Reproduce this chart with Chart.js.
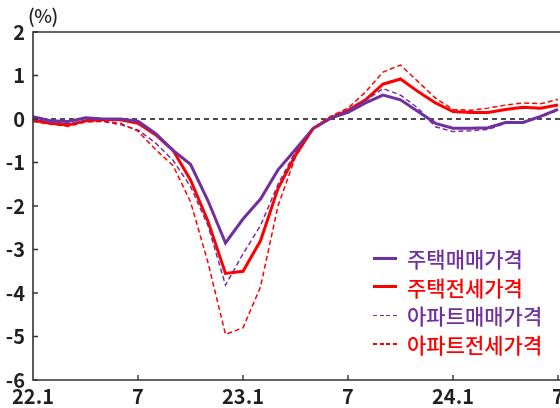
<!DOCTYPE html>
<html>
<head>
<meta charset="utf-8">
<script src="https://cdn.jsdelivr.net/npm/chart.js@4/dist/chart.umd.min.js"></script>
<style>
html,body{margin:0;padding:0;background:#fff;overflow:hidden}
#wrap{position:relative;width:560px;height:408px;overflow:hidden;background:#fff}
#box{position:absolute;left:0;top:0;width:600px;height:408px}
#unit{position:absolute;left:28px;top:1px;font:500 19px "Noto Sans CJK KR";color:#231f20;letter-spacing:-0.5px}
#legend{position:absolute;left:373px;top:244px;font:500 21px "Noto Sans CJK KR"}
.row{display:flex;align-items:center;height:28.5px;white-space:nowrap}
.sw{width:24px;height:3px;margin-right:10px}
.sw.dash{height:1.5px}
</style>
</head>
<body>
<div id="wrap">
  <div id="box"><canvas id="c"></canvas></div>
  <div id="unit">(%)</div>
  <div id="legend"></div>
</div>
<script>
const categories = ['22.1','22.2','22.3','22.4','22.5','22.6','22.7','22.8','22.9','22.10','22.11','22.12',
  '23.1','23.2','23.3','23.4','23.5','23.6','23.7','23.8','23.9','23.10','23.11','23.12',
  '24.1','24.2','24.3','24.4','24.5','24.6','24.7'];
const tickLabels = {'22.1':'22.1','22.7':'7','23.1':'23.1','23.7':'7','24.1':'24.1','24.7':'7'};
const yTicks = [2,1,0,-1,-2,-3,-4,-5,-6];
const seriesNames = ['주택매매가격','주택전세가격','아파트매매가격','아파트전세가격'];

const houseSale = [0.05,-0.04,-0.06,0.03,0.0,0.0,-0.05,-0.33,-0.72,-1.04,-1.88,-2.85,
  -2.3,-1.84,-1.17,-0.7,-0.22,0.02,0.15,0.37,0.55,0.44,0.17,-0.1,
  -0.21,-0.21,-0.2,-0.08,-0.08,0.06,0.22];
const houseRent = [-0.03,-0.1,-0.14,-0.04,-0.02,-0.02,-0.1,-0.36,-0.72,-1.4,-2.35,-3.55,
  -3.5,-2.8,-1.6,-0.83,-0.22,0.02,0.2,0.44,0.8,0.92,0.63,0.37,
  0.17,0.15,0.15,0.22,0.27,0.25,0.32];
const aptSale = [0.0,-0.08,-0.1,-0.05,-0.06,-0.13,-0.25,-0.55,-0.95,-1.55,-2.45,-3.82,
  -3.1,-2.45,-1.5,-0.75,-0.22,0.04,0.2,0.42,0.7,0.55,0.25,-0.18,
  -0.29,-0.27,-0.24,-0.1,-0.09,0.04,0.2];
const aptRent = [-0.06,-0.12,-0.17,-0.07,-0.05,-0.1,-0.28,-0.7,-1.07,-1.9,-3.3,-4.95,
  -4.8,-3.86,-2.0,-0.87,-0.22,0.06,0.25,0.62,1.08,1.24,0.86,0.48,
  0.22,0.2,0.25,0.32,0.37,0.35,0.45];

const PURPLE = '#7030a0', RED = '#ff0000';
const FONT = '"Noto Sans CJK KR", "Noto Sans", sans-serif';

const framePlugin = {
  id: 'frame',
  beforeDatasetsDraw(chart) {
    const {ctx, chartArea: a, scales: {y}} = chart;
    const y0 = y.getPixelForValue(0);
    ctx.save();
    ctx.strokeStyle = '#111'; ctx.lineWidth = 1.4; ctx.setLineDash([5, 4]);
    ctx.beginPath(); ctx.moveTo(a.left, y0); ctx.lineTo(chart.width, y0); ctx.stroke();
    ctx.restore();
  },
  afterDraw(chart) {
    const {ctx, chartArea: a, scales: {x, y}} = chart;
    ctx.save();
    ctx.strokeStyle = '#333'; ctx.lineWidth = 1.6; ctx.setLineDash([]);
    ctx.beginPath();
    ctx.moveTo(chart.width, a.top); ctx.lineTo(a.left, a.top);
    ctx.lineTo(a.left, a.bottom); ctx.lineTo(chart.width, a.bottom);
    ctx.stroke();
    ctx.lineWidth = 1.4;
    ctx.beginPath();
    y.ticks.forEach(t => {
      const p = y.getPixelForValue(t.value);
      ctx.moveTo(a.left, p); ctx.lineTo(a.left + 5, p);
    });
    categories.forEach((c, i) => {
      if (tickLabels[c] && i > 0) {
        const p = x.getPixelForValue(i);
        ctx.moveTo(p, a.bottom); ctx.lineTo(p, a.bottom - 5);
      }
    });
    ctx.stroke();
    ctx.restore();
  }
};

const mk = (label, data, color, dashed) => ({
  label, data, borderColor: color, backgroundColor: color,
  borderWidth: dashed ? 1.5 : 3, borderDash: dashed ? [5, 3] : [],
  pointRadius: 0, tension: 0, fill: false
});

new Chart(document.getElementById('c'), {
  type: 'line',
  data: {
    labels: categories,
    datasets: [
      mk(seriesNames[3], aptRent, RED, true),
      mk(seriesNames[2], aptSale, PURPLE, true),
      mk(seriesNames[0], houseSale, PURPLE, false),
      mk(seriesNames[1], houseRent, RED, false)
    ]
  },
  options: {
    responsive: true, maintainAspectRatio: false, animation: false,
    layout: {padding: {top: 32, right: 42, left: 0, bottom: 0}},
    plugins: {legend: {display: false}, tooltip: {enabled: false}},
    scales: {
      x: {
        type: 'category', offset: false,
        grid: {display: false, drawTicks: false}, border: {display: false},
        ticks: {
          autoSkip: false, maxRotation: 0, padding: 4, color: '#231f20',
          font: {family: FONT, size: 20, weight: 'bold'},
          callback: (v, i) => tickLabels[categories[i]] || ''
        },
        afterFit: s => { s.height = 28; }
      },
      y: {
        min: -6, max: 2,
        grid: {display: false, drawTicks: false}, border: {display: false},
        afterBuildTicks: s => { s.ticks = yTicks.map(v => ({value: v})); },
        ticks: {
          padding: 8, color: '#231f20',
          font: {family: FONT, size: 20, weight: 'bold'},
          callback: v => String(v)
        },
        afterFit: s => { s.width = 33; }
      }
    }
  },
  plugins: [framePlugin]
});

const legendItems = [
  {name: seriesNames[0], color: PURPLE, dashed: false},
  {name: seriesNames[1], color: RED, dashed: false},
  {name: seriesNames[2], color: PURPLE, dashed: true},
  {name: seriesNames[3], color: RED, dashed: true}
];
const lg = document.getElementById('legend');
legendItems.forEach(it => {
  const r = document.createElement('div'); r.className = 'row';
  const s = document.createElement('div'); s.className = 'sw' + (it.dashed ? ' dash' : '');
  s.style.background = it.dashed
    ? `repeating-linear-gradient(to right, ${it.color} 0 4px, transparent 4px 6.6px)`
    : it.color;
  const t = document.createElement('span'); t.textContent = it.name; t.style.color = it.color;
  r.appendChild(s); r.appendChild(t); lg.appendChild(r);
});
</script>
</body>
</html>
